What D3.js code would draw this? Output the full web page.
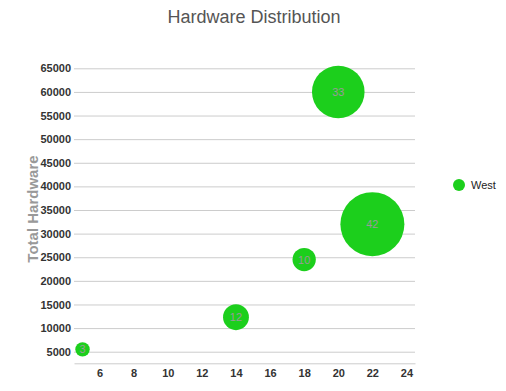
<!DOCTYPE html>
<html>
<head>
<meta charset="utf-8">
<script src="https://cdn.jsdelivr.net/npm/d3@7"></script>
<style>
  body { margin: 0; background: #fff; }
  svg { font-family: "Liberation Sans", Arial, sans-serif; }
</style>
</head>
<body>
<div id="chart"></div>
<script>
// 資料
const seriesName = "West";
const xValues = [5, 14, 18, 20, 22];
const yValues = [5500, 12300, 24500, 60000, 32000];
const sizeValues = [3, 12, 10, 33, 42];
const xTicks = [6, 8, 10, 12, 14, 16, 18, 20, 22, 24];
const yTicks = [5000, 10000, 15000, 20000, 25000, 30000, 35000, 40000, 45000, 50000, 55000, 60000, 65000];

const width = 506, height = 391;
const plot = { left: 74, right: 415, top: 68.3, bottom: 363.3 };
const green = "#1ccf1c";

const svg = d3.select("#chart")
    .append("svg")
    .attr("width", width)
    .attr("height", height);

const x = d3.scaleLinear().domain([4.5, 24.5]).range([plot.left, plot.right]);
const y = d3.scaleLinear().domain([2545, 65000]).range([plot.bottom, plot.top]);
const r = d3.scaleLinear().domain([3, 42]).range([7.2, 32]);

// 標題
svg.append("text")
    .attr("x", 254)
    .attr("y", 23)
    .attr("text-anchor", "middle")
    .attr("font-size", 18)
    .attr("fill", "#555")
    .text("Hardware Distribution");

// 格線 + y 軸
const yAxis = svg.append("g")
    .attr("transform", `translate(${plot.left},0)`)
    .call(d3.axisLeft(y).tickValues(yTicks).tickSize(-(plot.right - plot.left)).tickPadding(3).tickFormat(d3.format("d")));
yAxis.select(".domain").remove();
yAxis.selectAll("line").attr("stroke", "#ccc");
yAxis.selectAll("text")
    .attr("font-size", 11)
    .attr("font-weight", "bold")
    .attr("fill", "#333")
    .attr("font-family", "Liberation Sans, Arial, sans-serif");

// x 軸
const xAxis = svg.append("g")
    .attr("transform", `translate(0,${plot.bottom})`)
    .call(d3.axisBottom(x).tickValues(xTicks).tickSize(0).tickPadding(6));
xAxis.select(".domain").attr("stroke", "#ccc");
xAxis.selectAll("text")
    .attr("font-size", 11)
    .attr("font-weight", "bold")
    .attr("fill", "#333")
    .attr("font-family", "Liberation Sans, Arial, sans-serif");

// y 軸標題
svg.append("text")
    .attr("transform", "translate(38,209) rotate(-90)")
    .attr("text-anchor", "middle")
    .attr("font-size", 15)
    .attr("font-weight", "bold")
    .attr("fill", "#999")
    .text("Total Hardware");

// 氣泡
const data = xValues.map((v, i) => ({ x: v, y: yValues[i], size: sizeValues[i] }));
const bubbles = svg.append("g");
bubbles.selectAll("circle")
    .data(data)
    .join("circle")
    .attr("cx", d => x(d.x))
    .attr("cy", d => y(d.y))
    .attr("r", d => r(d.size))
    .attr("fill", green);

bubbles.selectAll("text")
    .data(data)
    .join("text")
    .attr("x", d => x(d.x))
    .attr("y", d => y(d.y) + 4)
    .attr("text-anchor", "middle")
    .attr("font-size", 11)
    .attr("fill", "#999")
    .text(d => d.size);

// 圖例
const legend = svg.append("g").attr("transform", "translate(459,185)");
legend.append("circle").attr("r", 6).attr("fill", green);
legend.append("text")
    .attr("x", 12)
    .attr("y", 4)
    .attr("font-size", 11)
    .attr("fill", "#222")
    .text(seriesName);
</script>
</body>
</html>
